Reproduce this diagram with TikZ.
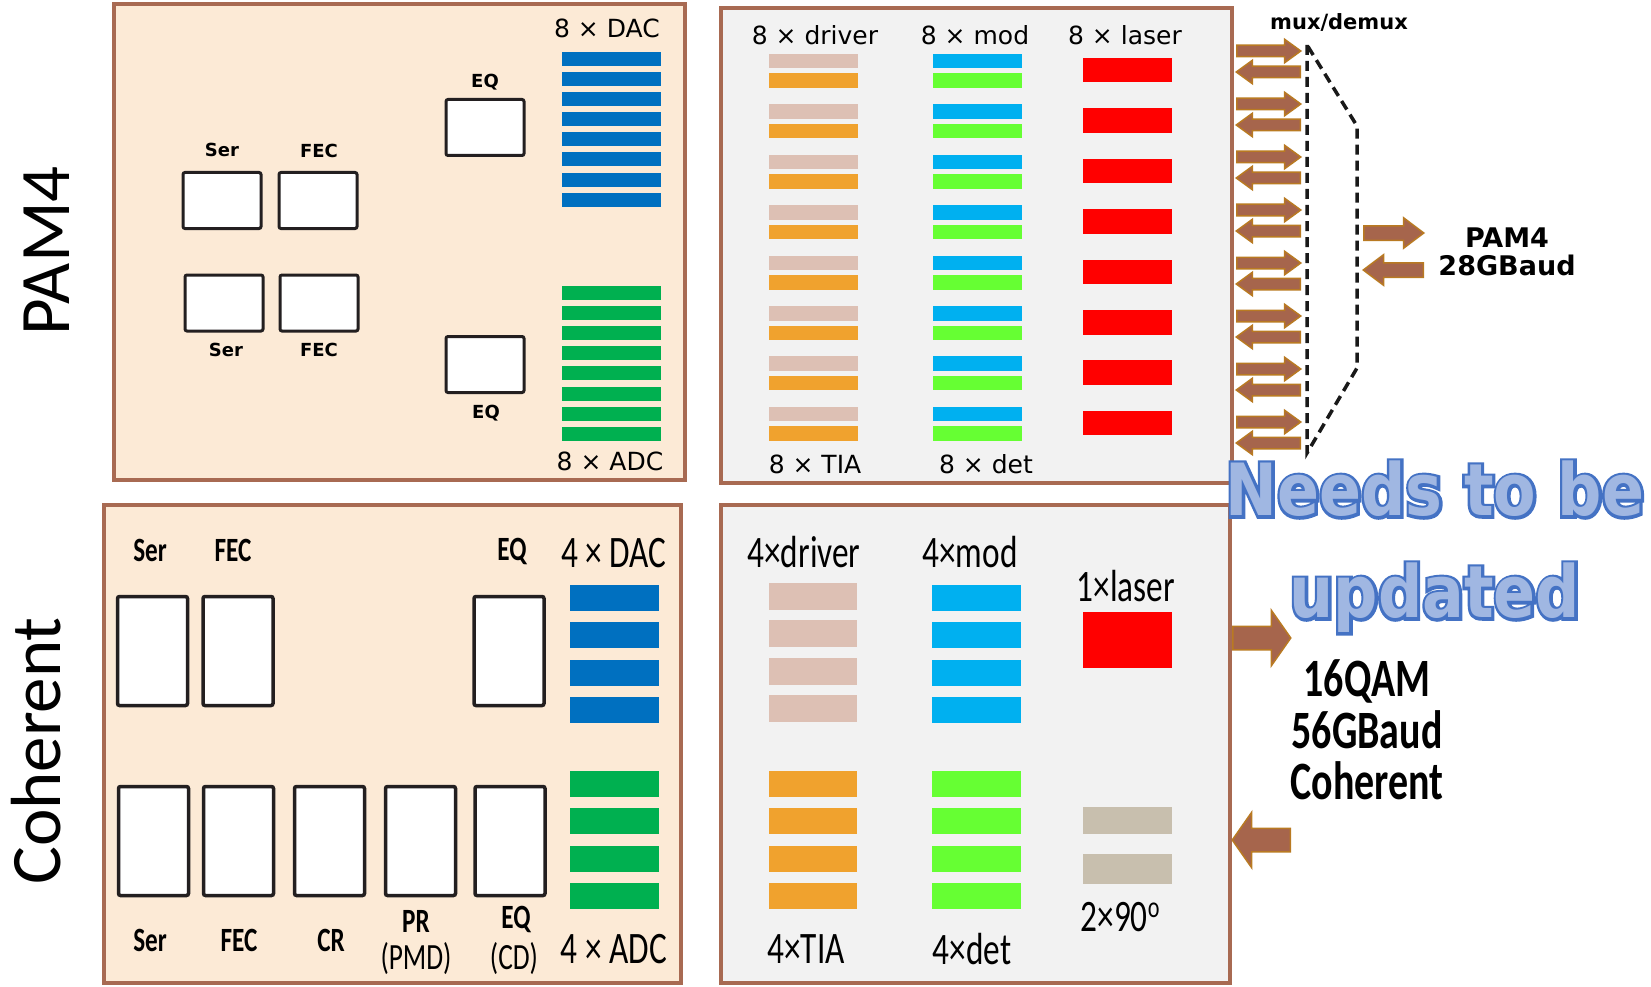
\documentclass[tikz,border=0pt]{standalone}
\usepackage{fontspec}
\usepackage{tikz}
\usetikzlibrary{shapes.arrows, positioning}
\setmainfont{DejaVu Sans}
\newfontfamily\pamfont{DejaVu Sans}
\newfontfamily\notefont[FakeStretch=0.86]{DejaVu Sans}
\newfontfamily\noteedgefont[FakeStretch=0.86, FakeBold=8]{DejaVu Sans}
\newfontfamily\cohfont[FakeStretch=0.74]{Carlito}
\newfontfamily\sidefont{Carlito}

\definecolor{edge}{RGB}{168,106,82}
\definecolor{peach}{RGB}{252,234,214}
\definecolor{panelgray}{RGB}{242,242,242}
\definecolor{chipline}{RGB}{35,31,32}
\definecolor{dacblue}{RGB}{0,112,192}
\definecolor{adcgreen}{RGB}{0,176,80}
\definecolor{drvpink}{RGB}{221,192,180}
\definecolor{tiaorange}{RGB}{240,162,46}
\definecolor{modblue}{RGB}{0,176,240}
\definecolor{detgreen}{RGB}{102,255,51}
\definecolor{laserred}{RGB}{255,0,0}
\definecolor{hybgray}{RGB}{200,191,174}
\definecolor{arrowfill}{RGB}{166,101,76}
\definecolor{arrowline}{RGB}{185,122,34}
\definecolor{noteline}{RGB}{68,114,196}
\definecolor{notefill}{RGB}{160,183,226}

\begin{document}
\begin{tikzpicture}[x=1pt, y=-1pt,
    panel/.style={draw=edge, line width=3.5pt},
    chip/.style={draw=chipline, fill=white, line width=3pt, rounded corners=2pt, inner sep=0pt},
    pchip/.style={chip, minimum width=78pt, minimum height=56pt},
    cchip/.style={chip, line width=3.5pt, minimum width=70pt, minimum height=109pt},
    pamlbl/.style={inner sep=0pt, font=\pamfont\fontsize{25}{28}\selectfont},
    pamtag/.style={inner sep=0pt, font=\pamfont\bfseries\fontsize{18}{22}\selectfont},
    cohlbl/.style={inner sep=0pt, font=\cohfont\fontsize{45}{50}\selectfont},
    cohtag/.style={inner sep=0pt, font=\cohfont\bfseries\fontsize{34}{38}\selectfont},
    cohsub/.style={inner sep=0pt, font=\cohfont\fontsize{37}{40}\selectfont},
    sidelbl/.style={inner sep=0pt, rotate=90, font=\sidefont\fontsize{71}{80}\selectfont},
    notetxt/.style={inner sep=0pt, align=center, font=\notefont\bfseries\fontsize{72}{102}\selectfont},
    blockarrow/.style={single arrow, fill=arrowfill, draw=arrowline, line width=1.5pt,
                inner sep=0pt, text depth=0pt},
    muxarrow/.style={blockarrow, text height=10pt, single arrow head extend=6pt,
                single arrow tip angle=72, minimum height=64pt},
    pamarrow/.style={blockarrow, text height=13pt, single arrow head extend=8pt,
                single arrow tip angle=74, minimum height=60pt},
    coharrow/.style={blockarrow, text height=22pt, single arrow head extend=16pt,
                single arrow tip angle=110, minimum height=58pt},
    muxline/.style={draw=black!90, line width=3.5pt, dash pattern=on 10pt off 6pt}
]
\path [use as bounding box, fill=white] (0,0) rectangle (1651,987);

%% ---- SIDE LABELS ----
\node [sidelbl] (pamside) at (46.5,251) {PAM4};
\node [sidelbl] (cohside) at (36,751)   {Coherent};

%% ---- PAM4 DSP PANEL (top left) ----
\draw [panel, fill=peach] (114,4) rectangle (685,480);
\node [pamlbl] (daclbl) at (607,28)  {8 × DAC};
\node [pamlbl] (adclbl) at (610,461) {8 × ADC};
\foreach \i in {0,...,7} {
  \fill [dacblue]  (562,{52+20.1*\i})  rectangle ++(99,14);
  \fill [adcgreen] (562,{286+20.1*\i}) rectangle ++(99,14);
}
\node [pchip] (eqtx)  at (485,127.5) {};
\node [pchip] (sertx) at (222,200.5) {};
\node [pchip] (fectx) at (318,200.5) {};
\node [pchip] (serrx) at (224,303)   {};
\node [pchip] (fecrx) at (319,303)   {};
\node [pchip] (eqrx)  at (485,364.5) {};
\node [pamtag] (eqtxlbl)  at (485,82)  {EQ};
\node [pamtag] (sertxlbl) at (222,150) {Ser};
\node [pamtag] (fectxlbl) at (319,151) {FEC};
\node [pamtag] (serrxlbl) at (226,350) {Ser};
\node [pamtag] (fecrxlbl) at (319,350) {FEC};
\node [pamtag] (eqrxlbl)  at (486,413) {EQ};

%% ---- PAM4 OPTICS PANEL (top right) ----
\draw [panel, fill=panelgray] (721,8) rectangle (1232,483);
\node [pamlbl] (drvlbl) at (815,35)  {8 × driver};
\node [pamlbl] (modlbl) at (975,35)  {8 × mod};
\node [pamlbl] (laslbl) at (1125,35) {8 × laser};
\node [pamlbl] (tialbl) at (815,464) {8 × TIA};
\node [pamlbl] (detlbl) at (986,464) {8 × det};
\foreach \i in {0,...,7} {
  \fill [drvpink]   (769,{54+50.4*\i})   rectangle ++(89,14.5);
  \fill [tiaorange] (769,{73.5+50.4*\i}) rectangle ++(89,14.5);
  \fill [modblue]   (933,{54+50.4*\i})   rectangle ++(89,14.5);
  \fill [detgreen]  (933,{73.5+50.4*\i}) rectangle ++(89,14.5);
  \fill [laserred]  (1083,{58+50.4*\i})  rectangle ++(89,24.5);
}

%% ---- MUX/DEMUX AND PAM4 LINE SIDE ----
\foreach \i in {0,...,7} {
  \node [muxarrow, anchor=tail] (tx\i) at (1236,{51+53*\i}) {};
  \node [muxarrow, anchor=tail, shape border rotate=180] (rx\i) at (1301,{72+53*\i}) {};
}
\draw [muxline] (1307,45) -- (1307,453) -- (1357,368) -- (1357,126) -- cycle;
\node [inner sep=0pt, font=\pamfont\bfseries\fontsize{21}{24}\selectfont] (muxlbl) at (1339,22) {mux/demux};
\node [pamarrow, anchor=tail] (pamout) at (1363,233) {};
\node [pamarrow, anchor=tail, shape border rotate=180] (pamin) at (1424,270) {};
\node [align=center, inner sep=0pt, font=\pamfont\bfseries\fontsize{27}{28}\selectfont]
      (pamrate) at (1507,252) {PAM4\\28GBaud};

%% ---- COHERENT DSP PANEL (bottom left) ----
\draw [panel, fill=peach] (104,505) rectangle (681,983);
\node [cohtag] (csertxlbl) at (150,550) {Ser};
\node [cohtag] (cfectxlbl) at (233,550) {FEC};
\node [cohtag] (ceqtxlbl)  at (512,551) {EQ};
\node [cohlbl] (cdaclbl)   at (614,553) {4 × DAC};
\node [cchip] (csertx) at (152.5,651) {};
\node [cchip] (cfectx) at (238,651)   {};
\node [cchip] (ceqtx)  at (509,651)   {};
\node [cchip] (cserrx) at (153.5,841) {};
\node [cchip] (cfecrx) at (238.5,841) {};
\node [cchip] (ccr)    at (329.5,841) {};
\node [cchip] (cpr)    at (420.5,841) {};
\node [cchip] (ceqrx)  at (510,841)   {};
\foreach \i in {0,...,3} {
  \fill [dacblue]  (570,{585+37.3*\i}) rectangle ++(89,26);
  \fill [adcgreen] (570,{771+37.3*\i}) rectangle ++(89,26);
}
\node [cohtag] (cserrxlbl) at (150,940) {Ser};
\node [cohtag] (cfecrxlbl) at (239,940) {FEC};
\node [cohtag] (ccrlbl)    at (331,940) {CR};
\node [cohtag] (cprlbl)    at (416,921) {PR};
\node [cohsub] (cpmdlbl)   at (416,959) {(PMD)};
\node [cohtag] (ceqrxlbl)  at (516,919) {EQ};
\node [cohsub] (ccdlbl)    at (514,959) {(CD)};
\node [cohlbl] (cadclbl)   at (614,949) {4 × ADC};

%% ---- COHERENT OPTICS PANEL (bottom right) ----
\draw [panel, fill=panelgray] (721,505) rectangle (1230,983);
\node [cohlbl] (cdrvlbl) at (804,552)  {4×driver};
\node [cohlbl] (cmodlbl) at (970,552)  {4×mod};
\node [cohlbl] (claslbl) at (1126,586) {1×laser};
\node [cohlbl] (ctialbl) at (806,949)  {4×TIA};
\node [cohlbl] (cdetlbl) at (972,949)  {4×det};
\node [cohlbl] (chyblbl) at (1120,917) {2×90\raisebox{0.3em}{\fontsize{30}{30}\selectfont o}};
\foreach \i in {0,...,3} {
  \fill [drvpink]   (769,{583+37.3*\i}) rectangle ++(88,27);
  \fill [modblue]   (932,{585+37.3*\i}) rectangle ++(89,26);
  \fill [tiaorange] (769,{771+37.3*\i}) rectangle ++(88,26);
  \fill [detgreen]  (932,{771+37.3*\i}) rectangle ++(89,26);
}
\fill [laserred] (1083,612) rectangle (1172,668);
\fill [hybgray]  (1083,807) rectangle (1172,834);
\fill [hybgray]  (1083,854) rectangle (1172,884);

%% ---- COHERENT LINE SIDE ----
\node [coharrow, anchor=tail] (cohout) at (1232,638) {};
\node [coharrow, anchor=tail, shape border rotate=180] (cohin) at (1291,840) {};
\node [align=center, inner sep=0pt, font=\cohfont\bfseries\fontsize{54}{51.5}\selectfont]
      (cohrate) at (1367,730) {16QAM\\56GBaud\\Coherent};

%% ---- NOTE (stroked copy under the filled text) ----
\node [notetxt, text=noteline, font=\noteedgefont\bfseries\fontsize{72}{102}\selectfont]
      (noteedge) at (1435,547) {Needs to be\\updated};
\node [notetxt, text=notefill] (note) at (1435,547) {Needs to be\\updated};

\end{tikzpicture}
\end{document}
